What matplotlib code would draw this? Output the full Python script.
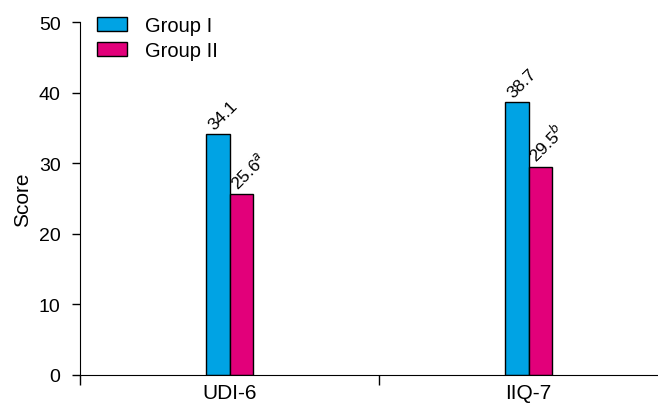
import matplotlib.pyplot as plt
import numpy as np

plt.rcParams['font.family'] = ['Liberation Sans', 'DejaVu Sans']

categories = ['UDI-6', 'IIQ-7']
group1 = [34.1, 38.7]
group2 = [25.6, 29.5]
labels1 = ['34.1', '38.7']
labels2 = ['25.6$^{a}$', '29.5$^{b}$']

blue = '#00A3E4'
pink = '#E2007A'

fig = plt.figure(figsize=(6.58, 4.10), dpi=100)
ax = fig.add_axes([80 / 658, 1 - 376 / 410, 598 / 658, 353 / 410])

x = np.arange(len(categories))
w = 0.077
ax.bar(x - w / 2, group1, w, color=blue, edgecolor='black', linewidth=1, label='Group I')
ax.bar(x + w / 2, group2, w, color=pink, edgecolor='black', linewidth=1, label='Group II')

# value labels, tilted
for xi, v, t in zip(x - w / 2, group1, labels1):
    ax.text(xi - 0.006, v + 0.3, t, rotation=45, rotation_mode='anchor',
            ha='left', va='bottom', fontsize=12.5)
for xi, v, t in zip(x + w / 2, group2, labels2):
    ax.text(xi - 0.006, v + 0.3, t, rotation=45, rotation_mode='anchor',
            ha='left', va='bottom', fontsize=12.5)

ax.set_xlim(-0.5, 1.5)
ax.set_ylim(0, 50)
ax.set_yticks(range(0, 51, 10))
ax.set_xticks(x)
ax.set_xticklabels(categories, fontsize=15)
ax.set_xticks([-0.5, 0.5, 1.5], minor=True)
ax.tick_params(axis='x', which='major', length=0, pad=6)
ax.tick_params(axis='x', which='minor', length=7, width=1, direction='out')
ax.tick_params(axis='y', length=6, width=1, labelsize=14, direction='out', pad=8)
ax.set_ylabel('Score', fontsize=15, labelpad=5)

for s in ['top', 'right']:
    ax.spines[s].set_visible(False)

ax.legend(loc='upper left', bbox_to_anchor=(0.015, 1.04), frameon=False,
          fontsize=14.5, handlelength=1.5, handleheight=0.65, handletextpad=0.9,
          labelspacing=0.3, borderaxespad=0)

fig.savefig('out.png', dpi=100)
